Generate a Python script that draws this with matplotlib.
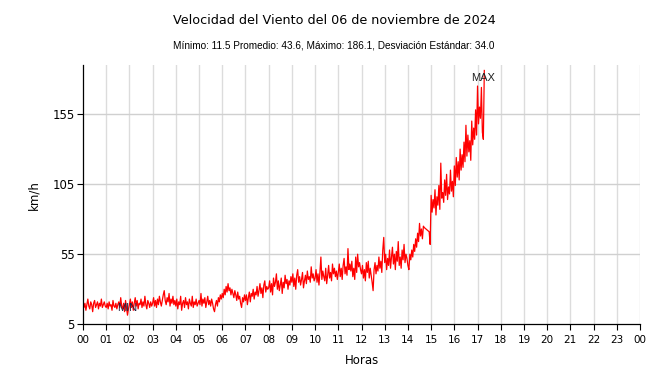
import matplotlib
matplotlib.use("Agg")
import matplotlib.pyplot as plt

# ---- data (2.5-minute samples, km/h; None = missing sample) ----
step_minutes = 2.5
h00 = [22, 17, 20, 15, 19, 23, 18, 16, 21, 19, 14, 20, 22, 17, 19, 21, 16, 20, 18, 23, 17, 19, 21, 18]
h01 = [17, 20, 16, 21, 18, 19, 15, 22, 18, 17, 20, 16, 19, 21, 17, 24, 18, 16, 20, 14, 22, 17, 11.5, 16]
h02 = [19, 23, 17, 21, 15, 20, 24, 18, 22, 16, 20, 19, 23, 17, 21, 18, 25, 19, 16, 22, 20, 17, 21, 18]
h03 = [20, 24, 18, 22, 17, 23, 19, 25, 21, 18, 22, 26, 29, 22, 19, 24, 21, 27, 18, 23, 20, 25, 19, 22]
h04 = [18, 23, 16, 21, 19, 25, 15, 20, 22, 17, 24, 19, 21, 16, 23, 20, 18, 25, 17, 21, 19, 23, 18, 20]
h05 = [22, 19, 27, 18, 23, 20, 24, 17, 21, 25, 19, 22, 18, 23, 20, 16, 14, 19, 22, 18, 24, 21, 26, 23]
h06 = [27, 24, 30, 26, 32, 28, 34, 29, 31, 26, 30, 27, 24, 29, 26, 22, 28, 23, 25, 20, 17, 24, 21, 26]
h07 = [22, 26, 19, 24, 28, 21, 27, 25, 30, 23, 28, 26, 32, 25, 29, 34, 27, 31, 24, 33, 36, 28, 32, 30]
h08 = [31, 36, 28, 34, 26, 38, 32, 35, 41, 30, 36, 29, 33, 38, 27, 35, 31, 40, 34, 37, 30, 36, 33, 39]
h09 = [35, 41, 32, 38, 30, 40, 44, 35, 39, 33, 37, 42, 31, 36, 40, 34, 43, 37, 39, 35, 46, 38, 41, 36]
h10 = [38, 44, 35, 41, 33, 42, 53, 37, 43, 39, 36, 45, 34, 40, 47, 38, 42, 36, 48, 41, 45, 39, 43, 37]
h11 = [42, 48, 39, 45, 37, 47, 52, 41, 46, 40, 59, 44, 48, 43, 50, 39, 45, 37, 53, 42, 55, 46, 49, 44]
h12 = [41, 47, 38, 44, 36, 49, 42, 50, 38, 45, 40, 35, 29, 44, 49, 41, 47, 43, 53, 45, 50, 42, 58, 67]
h13 = [49, 55, 44, 52, 47, 58, 45, 53, 60, 48, 55, 44, 57, 50, 64, 47, 53, 45, 58, 51, 62, 49, 55, 52]
h14 = [47, 44, 55, 51, 58, 53, 62, 57, 66, 60, 70, 64, 77, 68, 73, 66, 75, 74, None, None, None, None, 71, 62]
h15 = [97, 85, 94, 88, 101, 83, 96, 90, 104, 87, 120, 95, 99, 92, 108, 97, 112, 94, 103, 98, 115, 100, 107, 96]
h16 = [118, 104, 124, 110, 121, 108, 130, 115, 126, 117, 135, 121, 147, 125, 140, 128, 136, 122, 150, 133, 145, 137, 158, 140]
h17 = [175, 148, 160, 152, 174, 142, 137, 186.1]

hour_labels = ["%02d" % (h % 24) for h in range(25)]
y_ticks = [5, 55, 105, 155]
title = "Velocidad del Viento del 06 de noviembre de 2024"
subtitle = "Mínimo: 11.5 Promedio: 43.6, Máximo: 186.1, Desviación Estándar: 34.0"

series = h00 + h01 + h02 + h03 + h04 + h05 + h06 + h07 + h08 + h09 + h10 + h11 + h12 + h13 + h14 + h15 + h16 + h17
times = [i * step_minutes / 60.0 for i in range(len(series))]
xs = [t for t, v in zip(times, series) if v is not None]
ys = [v for v in series if v is not None]

vmin = min(ys); vmax = max(ys)
tmin = xs[ys.index(vmin)]; tmax = xs[ys.index(vmax)]

fig = plt.figure(figsize=(6.68, 3.82), dpi=100)
ax = fig.add_axes([83/668, 1 - 324.3/382, (640-83)/668, (324.3-65)/382])

ax.plot(xs, ys, color="#ff0000", linewidth=0.9)

ax.set_xlim(0, 24)
ax.set_ylim(5, 190)
ax.set_xticks(range(25))
ax.set_xticklabels(hour_labels, fontsize=7.5)
ax.set_yticks(y_ticks)
ax.set_yticklabels([str(v) for v in y_ticks], fontsize=8.5)
ax.tick_params(axis="both", direction="out", length=4, width=0.8, color="black", pad=2)
ax.tick_params(axis="x", pad=4)

for h in range(1, 25):
    ax.axvline(h, color="#dcdcdc", linewidth=1, zorder=0)
for v in y_ticks[1:]:
    ax.axhline(v, color="#d0d0d0", linewidth=1, zorder=0)

for s in ["top", "right"]:
    ax.spines[s].set_visible(False)
ax.spines["left"].set_linewidth(0.9)
ax.spines["bottom"].set_linewidth(0.9)

ax.set_xlabel("Horas", fontsize=8.5, labelpad=6)
ax.set_ylabel("km/h", fontsize=8.5, labelpad=9)

ax.text(tmin, 16.5, "MIN", fontsize=8, color="#222244", ha="center", va="center",
        family="Liberation Sans")
ax.text(tmax - 0.05, 181, "MAX", fontsize=8, color="#222222", ha="center", va="center",
        family="Liberation Sans")

fig.text(0.5, 1 - 20/382, title, ha="center", va="center", fontsize=9.2)
fig.text(0.5, 1 - 46/382, subtitle, ha="center", va="center", fontsize=7.2, family="Liberation Sans")

fig.savefig("out.png", dpi=100)
